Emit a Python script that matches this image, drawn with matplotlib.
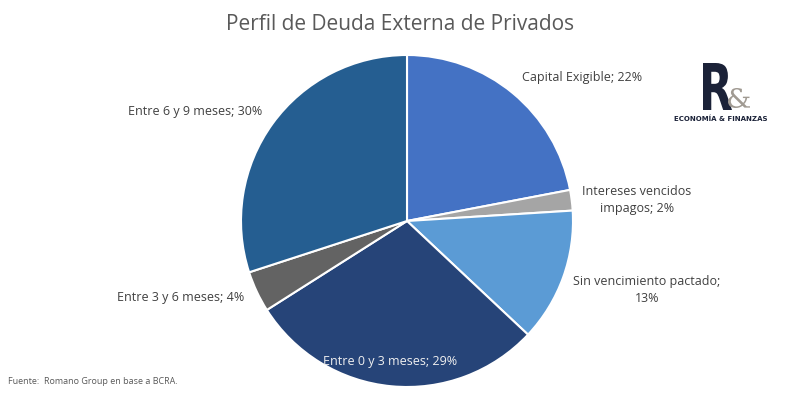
import matplotlib
matplotlib.use("Agg")
import matplotlib.pyplot as plt
from matplotlib.textpath import TextPath
from matplotlib.patches import PathPatch
from matplotlib.font_manager import FontProperties
from matplotlib.transforms import Affine2D

label_texts = ["Capital Exigible; 22%", "Intereses vencidos\nimpagos; 2%",
               "Sin vencimiento pactado;\n13%", "Entre 0 y 3 meses; 29%",
               "Entre 3 y 6 meses; 4%", "Entre 6 y 9 meses; 30%"]
values = [22, 2, 13, 29, 4, 30]
colors = ["#4472C4", "#A5A5A5", "#5B9BD5", "#264478", "#636363", "#255E91"]

# layout (pixel coordinates, y from top)
label_pos = [(582, 77), (637, 200), (647, 290), (390, 361), (181, 298), (195, 111)]
label_colors = ["#404040", "#404040", "#404040", "#F0F0F0", "#404040", "#404040"]

W, H = 800, 395
fig = plt.figure(figsize=(W / 100, H / 100), dpi=100)
ax = fig.add_axes([0, 0, 1, 1])

ax.pie(values, colors=colors, startangle=90, counterclock=False,
       center=(407, H - 221), radius=166, frame=True,
       wedgeprops=dict(edgecolor="white", linewidth=1.5))
ax.set_xlim(0, W)
ax.set_ylim(0, H)
ax.axis("off")

font = "Open Sans"
for txt, (x, y), c in zip(label_texts, label_pos, label_colors):
    ax.text(x, H - y, txt, ha="center", va="center", fontsize=9,
            color=c, family=font, linespacing=1.35)

ax.text(400, H - 24, "Perfil de Deuda Externa de Privados", ha="center", va="center",
        fontsize=15, color="#595959", family=font)
ax.text(8, H - 381, "Fuente:  Romano Group en base a BCRA.", ha="left", va="center",
        fontsize=6.5, color="#595959", family=font)


# logo
def boxed_glyph(s, prop, x0, x1, ytop, ybot, color, z=5):
    tp = TextPath((0, 0), s, prop=prop, size=1)
    ext = tp.get_extents()
    sx = (x1 - x0) / ext.width
    sy = (ybot - ytop) / ext.height
    tr = Affine2D().translate(-ext.x0, -ext.y0).scale(sx, sy).translate(x0, H - ybot)
    p = tr.transform_path(tp)
    ax.add_patch(PathPatch(p, facecolor=color, edgecolor="none", zorder=z))


boxed_glyph("R", FontProperties(family="DejaVu Sans", weight="bold"),
            703, 732, 63, 110, "#1B2238")
boxed_glyph("&", FontProperties(family="DejaVu Serif"),
            728, 750, 88, 108, "#A09A92", z=6)
ax.text(721, H - 119, "ECONOMÍA & FINANZAS", ha="center", va="center", fontsize=5,
        fontweight="bold", color="#1B2238", family="DejaVu Sans")

fig.savefig("out.png", dpi=100, facecolor="white")
